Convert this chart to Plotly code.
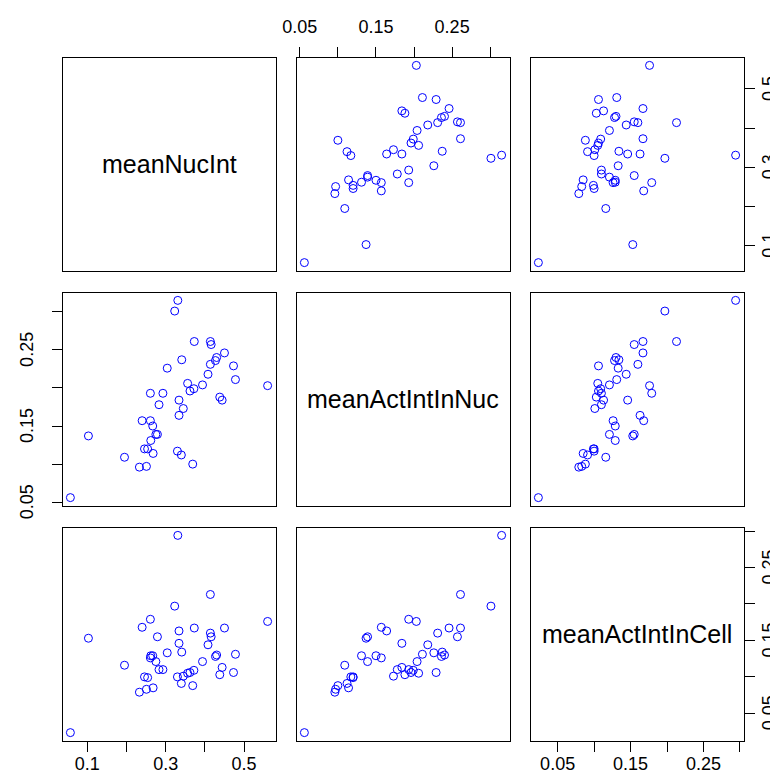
import plotly.graph_objects as go

var_names = ["meanNucInt", "meanActIntInNuc", "meanActIntInCell"]

meanNucInt = [0.331, 0.323, 0.373, 0.414, 0.416, 0.341, 0.450, 0.430, 0.427, 0.414,
              0.304, 0.473, 0.408, 0.478, 0.356, 0.394, 0.560, 0.372, 0.362, 0.261,
              0.293, 0.438, 0.444, 0.334, 0.283, 0.345, 0.334, 0.240, 0.261, 0.267,
              0.103, 0.275, 0.279, 0.262, 0.246, 0.254, 0.268, 0.330, 0.340, 0.195,
              0.369, 0.233, 0.251, 0.057]
meanActIntInNuc = [0.315, 0.301, 0.261, 0.261, 0.257, 0.237, 0.246, 0.240, 0.236, 0.231,
                   0.226, 0.229, 0.218, 0.211, 0.206, 0.204, 0.203, 0.199, 0.196, 0.193,
                   0.193, 0.188, 0.184, 0.184, 0.178, 0.173, 0.164, 0.157, 0.157, 0.150,
                   0.137, 0.139, 0.139, 0.131, 0.120, 0.120, 0.114, 0.117, 0.112, 0.109,
                   0.100, 0.096, 0.097, 0.056]
meanActIntInCell = [0.294, 0.197, 0.167, 0.213, 0.155, 0.134, 0.167, 0.130, 0.128, 0.160,
                    0.133, 0.106, 0.144, 0.131, 0.105, 0.121, 0.176, 0.109, 0.106, 0.179,
                    0.110, 0.103, 0.113, 0.146, 0.110, 0.101, 0.163, 0.168, 0.126, 0.129,
                    0.153, 0.121, 0.155, 0.129, 0.100, 0.099, 0.085, 0.100, 0.091, 0.116,
                    0.088, 0.079, 0.083, 0.0236]

tick_vals = [
    [0.1, 0.2, 0.3, 0.4, 0.5],
    [0.05, 0.10, 0.15, 0.20, 0.25, 0.30],
    [0.05, 0.10, 0.15, 0.20, 0.25, 0.30],
]
tick_text = [
    ["0.1", "", "0.3", "", "0.5"],
    ["0.05", "", "0.15", "", "0.25", ""],
    ["0.05", "", "0.15", "", "0.25", ""],
]

data = [meanNucInt, meanActIntInNuc, meanActIntInCell]


def padded(v):
    lo, hi = min(v), max(v)
    d = (hi - lo) * 0.04
    return [lo - d, hi + d]


ranges = [padded(v) for v in data]

W = H = 778
x0, xpitch, size = 54.5, 234.0, 213
y0, ypitch = 49.5, 235.0
LEFT_LABEL_X = 19
RIGHT_LABEL_X = 761

fig = go.Figure()
layout = dict(
    width=W, height=H, margin=dict(l=0, r=0, t=0, b=0),
    paper_bgcolor="white", plot_bgcolor="white", showlegend=False,
    font=dict(family="Liberation Sans, Arial, sans-serif", color="black"),
)
annotations = []

for i in range(3):
    for j in range(3):
        idx = i * 3 + j + 1
        xs = "" if idx == 1 else str(idx)
        left = x0 + xpitch * j
        top = y0 + ypitch * i
        xdom = [left / W, (left + size) / W]
        ydom = [(H - top - size) / H, (H - top) / H]
        xa = dict(domain=xdom, range=ranges[j], anchor="y" + xs, showgrid=False,
                  zeroline=False, showline=True, mirror=True, linecolor="black",
                  linewidth=1, automargin=False, ticks="", showticklabels=False)
        ya = dict(domain=ydom, range=ranges[i], anchor="x" + xs, showgrid=False,
                  zeroline=False, showline=True, mirror=True, linecolor="black",
                  linewidth=1, automargin=False, ticks="", showticklabels=False)
        tick_style = dict(ticks="outside", ticklen=10, tickcolor="black", tickwidth=1)
        # x axis ticks
        if (i == 0 and j == 1) or (i == 2 and j in (0, 2)):
            xa.update(tick_style)
            xa.update(tickmode="array", tickvals=tick_vals[j], ticktext=tick_text[j],
                      side="top" if i == 0 else "bottom", showticklabels=True,
                      tickfont=dict(size=18, color="black"),
                      ticklabelstandoff=6 if i == 0 else -3)
        # y axis ticks (labels placed as rotated annotations in data coords)
        if (i == 1 and j == 0) or (j == 2 and i in (0, 2)):
            ya.update(tick_style)
            ya.update(tickmode="array", tickvals=tick_vals[i],
                      side="left" if j == 0 else "right")
            lx = LEFT_LABEL_X if j == 0 else RIGHT_LABEL_X
            for v, t in zip(tick_vals[i], tick_text[i]):
                if t:
                    annotations.append(dict(
                        x=lx / W, xref="paper", y=v, yref="y" + xs, text=t,
                        showarrow=False, textangle=-90, xanchor="center",
                        yanchor="middle", font=dict(size=18, color="black")))
        layout["xaxis" + xs] = xa
        layout["yaxis" + xs] = ya
        if i == j:
            annotations.append(dict(
                x=(xdom[0] + xdom[1]) / 2, y=(ydom[0] + ydom[1]) / 2,
                xref="paper", yref="paper", text=var_names[i], showarrow=False,
                font=dict(size=25, color="black"), xanchor="center", yanchor="middle"))
            fig.add_trace(go.Scatter(
                x=[sum(ranges[j]) / 2], y=[sum(ranges[i]) / 2], mode="markers",
                marker=dict(opacity=0), xaxis="x" + xs, yaxis="y" + xs,
                hoverinfo="skip"))
        else:
            fig.add_trace(go.Scatter(
                x=data[j], y=data[i], mode="markers",
                marker=dict(symbol="circle-open", size=8, color="#0000FF",
                            line=dict(width=1, color="#0000FF")),
                xaxis="x" + xs, yaxis="y" + xs, hoverinfo="skip"))

layout["annotations"] = annotations
fig.update_layout(**layout)
fig.write_html("out.html")
